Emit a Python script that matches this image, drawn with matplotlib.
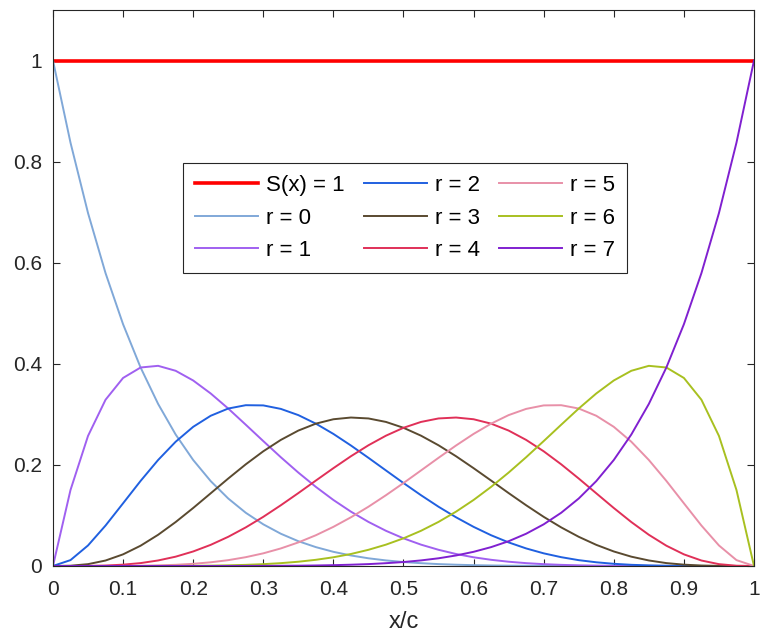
import numpy as np
import matplotlib.pyplot as plt

plt.rcParams['font.family'] = ['Liberation Sans', 'DejaVu Sans']

# x/c sample positions (step 0.025) and curve values
x = np.linspace(0, 1, 41)

s_total = [1.0] * 41

r0 = [1.0, 0.8376, 0.6983, 0.5794, 0.4783, 0.3927, 0.3206, 0.2601, 0.2097, 0.1679,
      0.1335, 0.1053, 0.0824, 0.0638, 0.0490, 0.0373, 0.0280, 0.0208, 0.0152, 0.0110,
      0.0078, 0.0055, 0.0037, 0.0025, 0.0016, 0.0010, 0.0006, 0.0004, 0.0002, 0.0001,
      0, 0, 0, 0, 0, 0, 0, 0, 0, 0, 0]
r1 = [0, 0.1503, 0.2573, 0.3289, 0.3720, 0.3927, 0.3960, 0.3862, 0.3670, 0.3413,
      0.3115, 0.2795, 0.2471, 0.2152, 0.1848, 0.1565, 0.1306, 0.1075, 0.0872, 0.0696,
      0.0547, 0.0422, 0.0320, 0.0237, 0.0172, 0.0122, 0.0084, 0.0056, 0.0036, 0.0022,
      0.0013, 0.0007, 0.0004, 0.0002, 0.0001, 0, 0, 0, 0, 0, 0]
r2 = [0, 0.0116, 0.0406, 0.0800, 0.1240, 0.1683, 0.2097, 0.2458, 0.2753, 0.2972,
      0.3115, 0.3181, 0.3177, 0.3108, 0.2985, 0.2816, 0.2613, 0.2384, 0.2140, 0.1890,
      0.1641, 0.1400, 0.1172, 0.0963, 0.0774, 0.0608, 0.0466, 0.0347, 0.0250, 0.0174,
      0.0115, 0.0073, 0.0043, 0.0023, 0.0012, 0.0005, 0.0002, 0, 0, 0, 0]
r3 = [0, 0.0005, 0.0036, 0.0108, 0.0230, 0.0401, 0.0617, 0.0869, 0.1147, 0.1438,
      0.1730, 0.2011, 0.2269, 0.2494, 0.2679, 0.2816, 0.2903, 0.2937, 0.2919, 0.2850,
      0.2734, 0.2578, 0.2388, 0.2171, 0.1935, 0.1690, 0.1442, 0.1201, 0.0972, 0.0763,
      0.0577, 0.0418, 0.0287, 0.0184, 0.0109, 0.0057, 0.0026, 0.0009, 0.0002, 0, 0]
r4 = [0, 0, 0.0002, 0.0009, 0.0026, 0.0057, 0.0109, 0.0184, 0.0287, 0.0418,
      0.0577, 0.0763, 0.0972, 0.1201, 0.1442, 0.1690, 0.1935, 0.2171, 0.2388, 0.2578,
      0.2734, 0.2850, 0.2919, 0.2937, 0.2903, 0.2816, 0.2679, 0.2494, 0.2269, 0.2011,
      0.1730, 0.1438, 0.1147, 0.0869, 0.0617, 0.0401, 0.0230, 0.0108, 0.0036, 0.0005, 0]
r5 = [0, 0, 0, 0, 0.0002, 0.0005, 0.0012, 0.0023, 0.0043, 0.0073,
      0.0115, 0.0174, 0.0250, 0.0347, 0.0466, 0.0608, 0.0774, 0.0963, 0.1172, 0.1400,
      0.1641, 0.1890, 0.2140, 0.2384, 0.2613, 0.2816, 0.2985, 0.3108, 0.3177, 0.3181,
      0.3115, 0.2972, 0.2753, 0.2458, 0.2097, 0.1683, 0.1240, 0.0800, 0.0406, 0.0116, 0]
r6 = [0, 0, 0, 0, 0, 0, 0.0001, 0.0002, 0.0004, 0.0007,
      0.0013, 0.0022, 0.0036, 0.0056, 0.0084, 0.0122, 0.0172, 0.0237, 0.0320, 0.0422,
      0.0547, 0.0696, 0.0872, 0.1075, 0.1306, 0.1565, 0.1848, 0.2152, 0.2471, 0.2795,
      0.3115, 0.3413, 0.3670, 0.3862, 0.3960, 0.3927, 0.3720, 0.3289, 0.2573, 0.1503, 0]
r7 = [0, 0, 0, 0, 0, 0, 0, 0, 0, 0,
      0, 0.0001, 0.0002, 0.0004, 0.0006, 0.0010, 0.0016, 0.0025, 0.0037, 0.0055,
      0.0078, 0.0110, 0.0152, 0.0208, 0.0280, 0.0373, 0.0490, 0.0638, 0.0824, 0.1053,
      0.1335, 0.1679, 0.2097, 0.2601, 0.3206, 0.3927, 0.4783, 0.5794, 0.6983, 0.8376, 1.0]

curves = [r0, r1, r2, r3, r4, r5, r6, r7]
labels = ['r = %d' % i for i in range(8)]
colors = ['#80a8d8', '#a060f0', '#2060e0', '#5a4a30',
          '#e03058', '#e890a8', '#a8c020', '#8020d0']

fig = plt.figure(figsize=(7.61, 6.34), dpi=100)
ax = fig.add_axes([0.0696, 0.1073, 0.9212, 0.8769])

ax.plot(x, s_total, color='#ff0000', lw=2.6, label='S(x) = 1')
for y, lab, c in zip(curves, labels, colors):
    ax.plot(x, y, color=c, lw=1.4, label=lab)

ax.set_xlim(0, 1)
ax.set_ylim(0, 1.1)
ax.set_xticks(np.arange(0, 1.01, 0.1))
ax.set_xticklabels(['0', '0.1', '0.2', '0.3', '0.4', '0.5', '0.6', '0.7', '0.8', '0.9', '1'])
ax.set_yticks([0, 0.2, 0.4, 0.6, 0.8, 1.0])
ax.set_yticklabels(['0', '0.2', '0.4', '0.6', '0.8', '1'])
ax.tick_params(direction='in', top=True, right=True, labelsize=15,
               colors='#262626', length=5, width=0.8)
ax.tick_params(axis='x', pad=10)
ax.tick_params(axis='y', pad=8)
for sp in ax.spines.values():
    sp.set_color('#262626')
    sp.set_linewidth(0.8)
ax.set_xlabel('x/c', fontsize=17, color='#262626', labelpad=9)

leg = ax.legend(ncol=3, loc='upper left', bbox_to_anchor=(0.185, 0.725),
                fontsize=16, frameon=True, fancybox=False, framealpha=1,
                edgecolor='#262626', handlelength=2.85, columnspacing=0.85,
                handletextpad=0.35, labelspacing=0.52, borderpad=0.55,
                borderaxespad=0)
leg.get_frame().set_linewidth(0.8)

fig.savefig('out.png', dpi=100)
